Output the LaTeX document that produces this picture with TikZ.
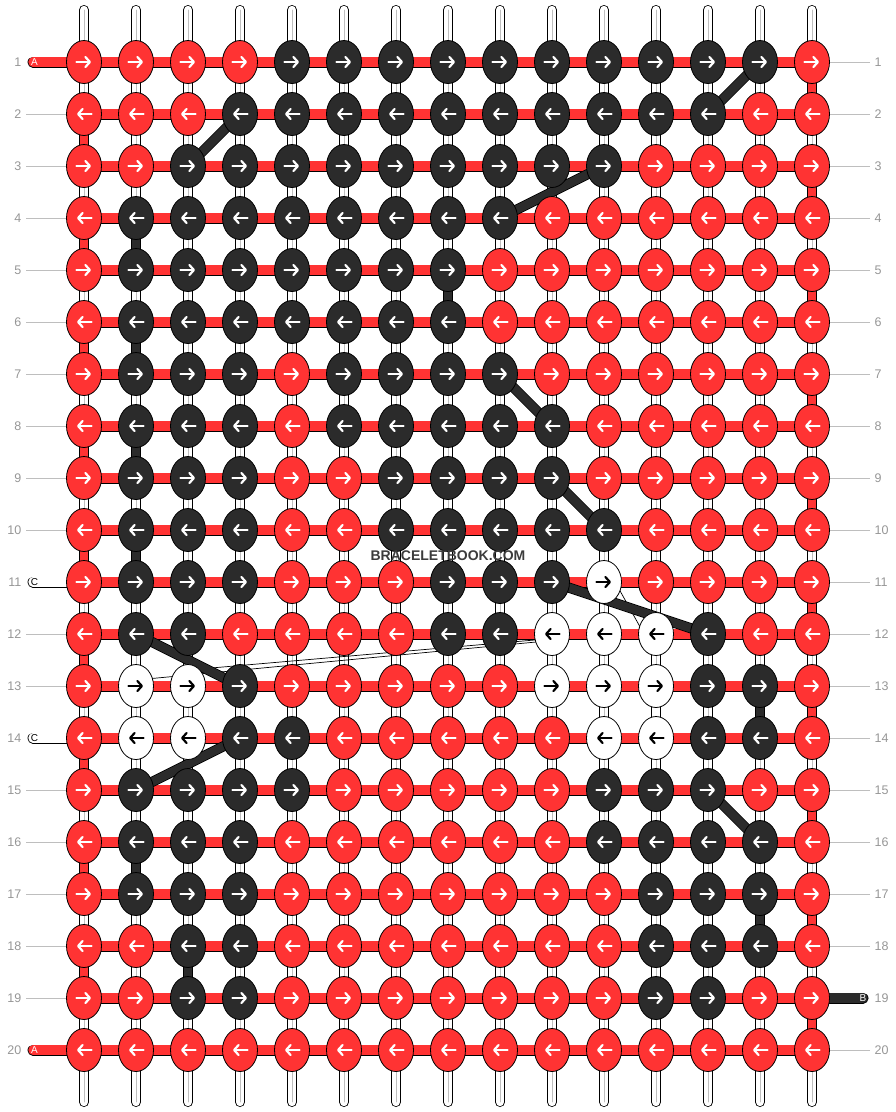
\documentclass[tikz,border=0pt]{standalone}
\usepackage{fontspec}
\setmainfont{Liberation Sans}
\usetikzlibrary{shapes.geometric,arrows.meta,calc,positioning}

\definecolor{threadA}{RGB}{255,51,51}
\definecolor{threadB}{RGB}{43,43,43}
\definecolor{rowgray}{RGB}{150,150,150}
\definecolor{linegray}{RGB}{190,190,190}
\definecolor{markgray}{RGB}{60,60,60}

\pgfdeclarelayer{warps}
\pgfdeclarelayer{wefts}
\pgfdeclarelayer{moves}
\pgfsetlayers{warps,wefts,moves,main}

\def\arrcol{white}
\def\dir{1}

\tikzset{
  arrcol/.store in=\arrcol,
  knot/.style={ellipse,draw=black,line width=0.8pt,inner sep=0pt,
    minimum width=35pt,minimum height=43pt,
    path picture={
      \draw[draw=\arrcol,line width=2.2pt,line cap=round,
        -{Straight Barb[length=4.5pt,width=10pt,line width=2.2pt,round]}]
        ([shift={({-7.5*\dir},0)}]path picture bounding box.center)
        -- ([shift={({7*\dir},0)}]path picture bounding box.center);}},
  kR/.style={knot,fill=threadA,arrcol=white},
  kB/.style={knot,fill=threadB,arrcol=white},
  kW/.style={knot,fill=white,arrcol=black},
  warp/.style={draw=black,line width=10pt,line cap=round,
    postaction={draw=white,line width=8.4pt},
    postaction={draw=linegray,line width=0.8pt}},
  weft/.style={draw=black,line width=0.8pt,double=#1,double distance=9.4pt},
  gap/.style={draw=black,line width=0.8pt,double=#1,double distance=8.4pt},
  carryB/.style={draw=black,line width=0.8pt,double=threadB,double distance=8.6pt},
  carryC/.style={draw=black,line width=0.7pt},
  rowlab/.style={font=\fontsize{12.5}{12.5}\selectfont,text=rowgray,
    inner xsep=4.5pt,inner ysep=0pt},
  labline/.style={draw=linegray,line width=0.9pt},
  tagtxt/.style={font=\fontsize{10}{10}\selectfont,inner sep=0pt}
}

\begin{document}
\begin{tikzpicture}[x=1pt,y=-1pt]
\useasboundingbox (0,0) rectangle (896,1112);

\foreach \r/\row in {
  1/{R,R,R,R,B,B,B,B,B,B,B,B,B,B,R},
  2/{R,R,R,B,B,B,B,B,B,B,B,B,B,R,R},
  3/{R,R,B,B,B,B,B,B,B,B,B,R,R,R,R},
  4/{R,B,B,B,B,B,B,B,B,R,R,R,R,R,R},
  5/{R,B,B,B,B,B,B,B,R,R,R,R,R,R,R},
  6/{R,B,B,B,B,B,B,B,R,R,R,R,R,R,R},
  7/{R,B,B,B,R,B,B,B,B,R,R,R,R,R,R},
  8/{R,B,B,B,R,B,B,B,B,B,R,R,R,R,R},
  9/{R,B,B,B,R,R,B,B,B,B,R,R,R,R,R},
  10/{R,B,B,B,R,R,B,B,B,B,B,R,R,R,R},
  11/{R,B,B,B,R,R,R,B,B,B,W,R,R,R,R},
  12/{R,B,B,R,R,R,R,B,B,W,W,W,B,R,R},
  13/{R,W,W,B,R,R,R,R,R,W,W,W,B,B,R},
  14/{R,W,W,B,B,R,R,R,R,R,W,W,B,B,R},
  15/{R,B,B,B,B,R,R,R,R,R,B,B,B,R,R},
  16/{R,B,B,B,R,R,R,R,R,R,B,B,B,B,R},
  17/{R,B,B,B,R,R,R,R,R,R,R,B,B,B,R},
  18/{R,R,B,B,R,R,R,R,R,R,R,B,B,B,R},
  19/{R,R,B,B,R,R,R,R,R,R,R,B,B,R,R},
  20/{R,R,R,R,R,R,R,R,R,R,R,R,R,R,R}}{
  \pgfmathtruncatemacro\dir{isodd(\r)?1:-1}
  \foreach \k [count=\c] in \row
    \node[k\k] (k-\r-\c) at ({32+52*\c},{10+52*\r}) {};
}

\foreach \r in {1,...,20}{
  \node[rowlab,anchor=east] (ln-\r) at (26,{10+52*\r}) {\r};
  \node[rowlab,anchor=west] (rn-\r) at (870,{10+52*\r}) {\r};
}

\coordinate (endA1) at (33,62);
\coordinate (endA20) at (33,1050);
\coordinate (endC11) at (33,582);
\coordinate (endC14) at (33,738);
\coordinate (endB19) at (863,998);
\node[tagtxt,text=white] (tagA1) at (34.5,62) {A};
\node[tagtxt,text=white] (tagA20) at (34.5,1050) {A};
\node[tagtxt,text=black] (tagC11) at (34.5,582) {C};
\node[tagtxt,text=black] (tagC14) at (34.5,738) {C};
\node[tagtxt,text=white] (tagB19) at (863,998) {B};

\node[font=\bfseries\fontsize{14}{14}\selectfont,text=markgray,inner sep=0pt]
  (mark) at (448,555.5) {BRACELETBOOK.COM};

\begin{pgfonlayer}{warps}
\foreach \c in {1,...,15}{
  \coordinate (wt-\c) at ({32+52*\c},10);
  \coordinate (wb-\c) at ({32+52*\c},1102);
  \draw[warp] (wt-\c) -- (wb-\c);
}
\foreach \r in {2,3,4,5,6,7,8,9,10,12,13,15,16,17,18,19}
  \draw[labline] (ln-\r) -- (k-\r-1);
\foreach \r in {1,2,3,4,5,6,7,8,9,10,11,12,13,14,15,16,17,18,20}
  \draw[labline] (rn-\r) -- (k-\r-15);
\end{pgfonlayer}

\begin{pgfonlayer}{wefts}
\foreach \r in {1,...,20}
  \draw[weft=threadA] (k-\r-1.center) -- (k-\r-15.center);
\foreach \r [evaluate=\r as \s using int(\r+1)] in {1,3,...,19}
  \draw[gap=threadA] (k-\r-15.center) -- (k-\s-15.center);
\foreach \r [evaluate=\r as \s using int(\r+1)] in {2,4,...,18}
  \draw[gap=threadA] (k-\r-1.center) -- (k-\s-1.center);
\foreach \a/\b in {4-2/5-2,5-8/6-8,6-2/7-2,8-2/9-2,10-2/11-2,13-14/14-14,
    16-2/17-2,17-14/18-14,18-3/19-3}
  \draw[gap=threadB] (k-\a.center) -- (k-\b.center);
\draw[gap=white] (k-13-12.center) -- (k-14-12.center);
\draw[weft=threadA,line cap=round] (k-1-1.center) -- (endA1);
\draw[weft=threadA,line cap=round] (k-20-1.center) -- (endA20);
\draw[weft=white,line cap=round] (k-11-1.center) -- (endC11);
\draw[weft=white,line cap=round] (k-14-1.center) -- (endC14);
\draw[weft=threadB,line cap=round] (k-19-15.center) -- (endB19);
\end{pgfonlayer}

\begin{pgfonlayer}{moves}
\draw[carryC] ([shift={(10,-2)}]k-11-11.center) -- ([shift={(-12,0)}]k-12-12.center);
\draw[carryC] ([shift={(0,4.5)}]k-12-10.center) -- ([shift={(0,-16)}]k-13-3.center);
\draw[carryC] ([shift={(0,6.5)}]k-12-10.center) -- ([shift={(0,-6)}]k-13-2.center);
\foreach \a/\b in {1-14/2-13,2-4/3-3,3-11/4-9,7-9/8-10,9-10/10-11,
    11-10/12-13,12-2/13-4,14-4/15-2,15-13/16-14}
  \draw[carryB] (k-\a.center) -- (k-\b.center);
\end{pgfonlayer}
\end{tikzpicture}
\end{document}
